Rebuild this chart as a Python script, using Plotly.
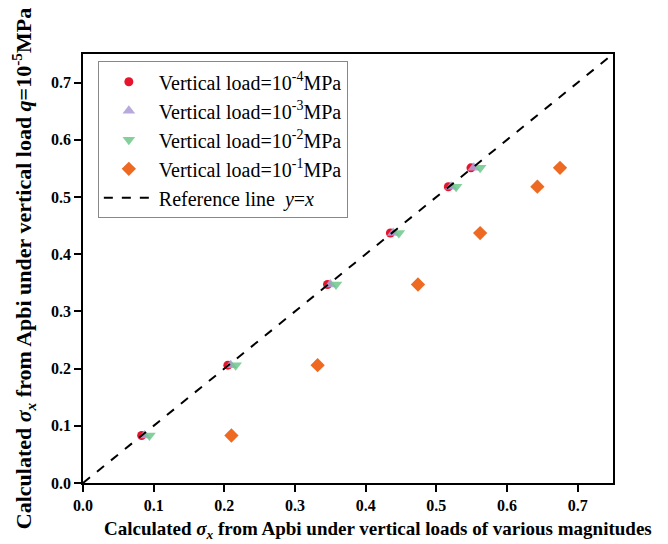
import plotly.graph_objects as go

# common y values (calculated sigma_x under q=1e-5 MPa)
y_vals = [0.083, 0.206, 0.347, 0.437, 0.518, 0.551]

x_1e4 = [0.083, 0.205, 0.346, 0.435, 0.517, 0.549]
x_1e3 = [0.087, 0.209, 0.350, 0.439, 0.521, 0.553]
x_1e2 = [0.094, 0.216, 0.358, 0.447, 0.528, 0.562]
x_1e1 = [0.210, 0.332, 0.474, 0.562, 0.643, 0.675]

ref_x = [0.0, 0.75]
ref_y = [0.0, 0.75]

SERIF = "Times New Roman, Liberation Serif, serif"

fig = go.Figure()

series = [
    ("Vertical load=10<sup>-4</sup>MPa", x_1e4, "circle", "#e8132d", 9),
    ("Vertical load=10<sup>-3</sup>MPa", x_1e3, "triangle-up", "rgba(175,160,215,0.9)", 11),
    ("Vertical load=10<sup>-2</sup>MPa", x_1e2, "triangle-down", "rgba(110,200,140,0.85)", 11),
    ("Vertical load=10<sup>-1</sup>MPa", x_1e1, "diamond", "#ee6a22", 11),
]
for name, xs, sym, color, size in series:
    fig.add_trace(go.Scatter(
        x=xs, y=y_vals, mode="markers", name=name,
        marker=dict(symbol=sym, color=color, size=size, line=dict(width=0)),
    ))

fig.add_trace(go.Scatter(
    x=ref_x, y=ref_y, mode="lines", name="Reference line  <i>y</i>=<i>x</i>",
    line=dict(color="black", width=2, dash="dash"),
))

axis_common = dict(
    range=[0, 0.75], dtick=0.1, tick0=0, tickformat=".1f",
    showgrid=False, zeroline=False, showline=True, linecolor="black", linewidth=1.5,
    mirror=True, ticks="outside", ticklen=7, tickwidth=1.5, tickcolor="black",
    tickfont=dict(family=SERIF, size=16, color="black", weight="bold"),
)

fig.update_xaxes(**axis_common)
fig.update_yaxes(
    **axis_common,
    title=dict(
        text="<b>Calculated <i>σ<sub>x</sub></i> from Apbi under vertical load <i>q</i>=10<sup>-5</sup>MPa</b>",
        font=dict(family=SERIF, size=22, color="black"), standoff=14,
    ),
)

# x title sits a bit right of the plot centre in the reference
fig.add_annotation(
    text="<b>Calculated <i>σ<sub>x</sub></i> from Apbi under vertical loads of various magnitudes</b>",
    xref="paper", yref="paper", x=0.557, y=-0.11, xanchor="center", yanchor="middle",
    showarrow=False, font=dict(family=SERIF, size=19, color="black"),
)

# page body adds an 8px offset, so margins are shifted accordingly
fig.update_layout(
    width=668, height=544,
    margin=dict(l=75, r=63, t=46, b=69),
    paper_bgcolor="white", plot_bgcolor="white",
    showlegend=True,
    legend=dict(
        x=0.028, y=0.983, xanchor="left", yanchor="top",
        bgcolor="white", bordercolor="#888888", borderwidth=1,
        font=dict(family=SERIF, size=20, color="black"),
        tracegroupgap=0, itemwidth=50,
    ),
)

fig.write_html("out.html")
